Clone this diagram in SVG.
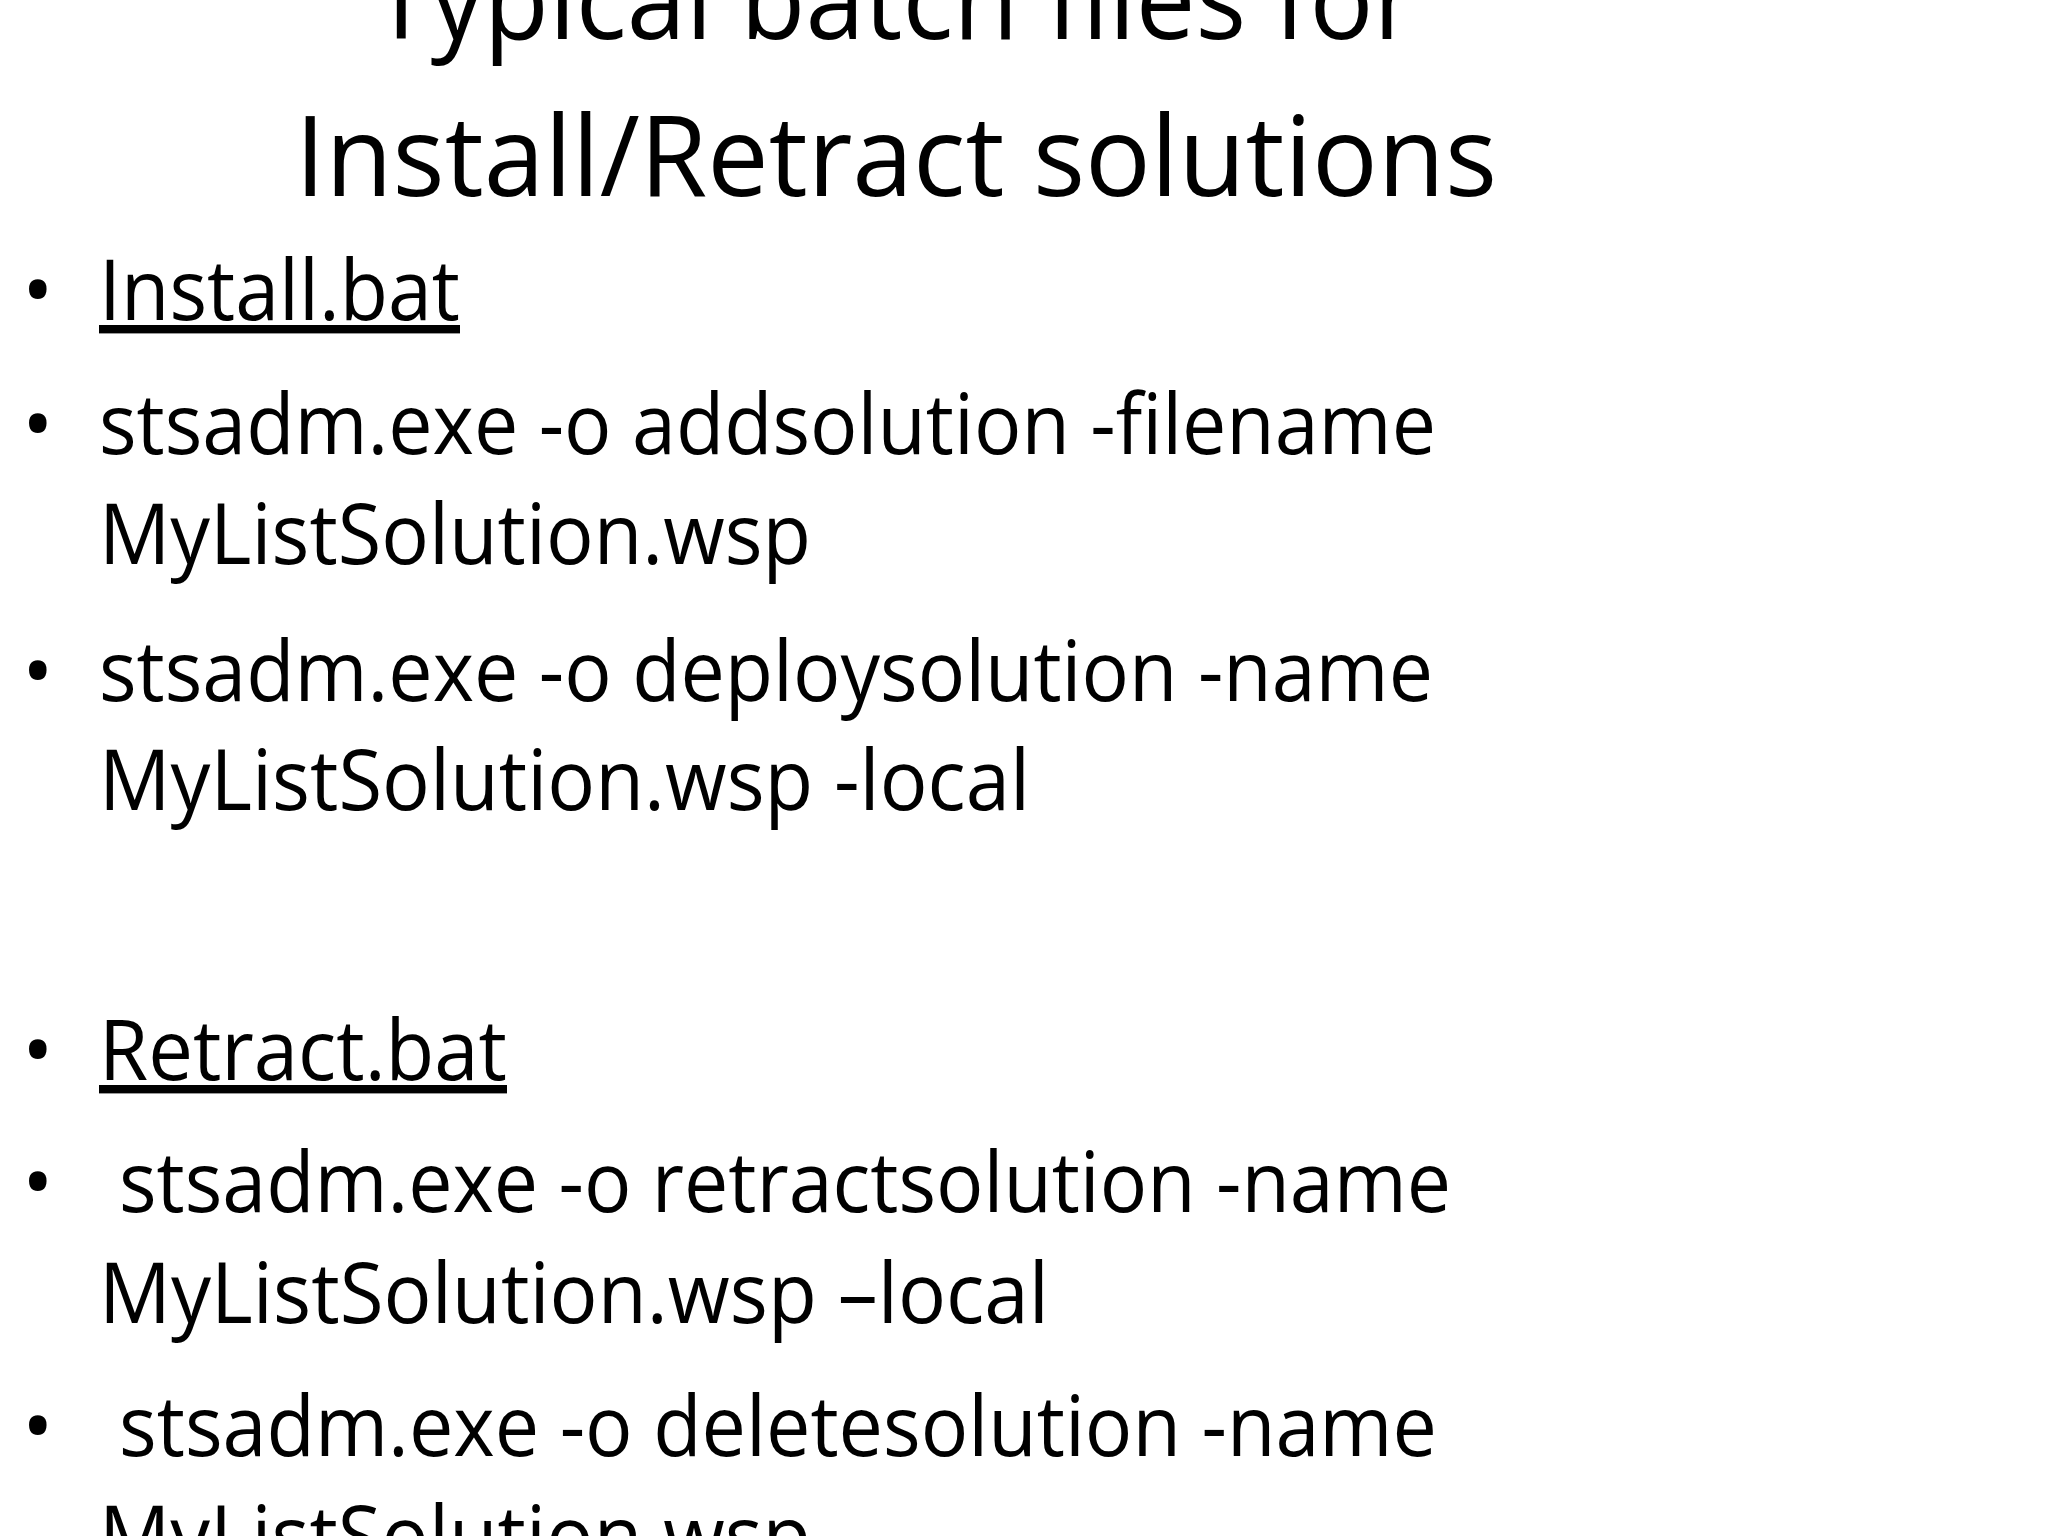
<svg xmlns="http://www.w3.org/2000/svg" width="2048" height="1536" viewBox="0 0 2048 1536">
<style>
text{font-family:"Open Sans","Liberation Sans",sans-serif;fill:#000}
.t{font-size:112px}
.b{font-size:84px}
.u{text-decoration:underline}
</style>
<rect width="2048" height="1536" fill="#fff"/>
<g id="title">
<text class="t" x="372" y="39" textLength="1045" lengthAdjust="spacingAndGlyphs">Typical batch files for</text>
<text class="t" x="295" y="196" textLength="1202" lengthAdjust="spacingAndGlyphs">Install/Retract solutions</text>
</g>
<g id="bullets" class="b">
<text class="b" x="22" y="320">•</text>
<text class="b" x="22" y="454">•</text>
<text class="b" x="22" y="701">•</text>
<text class="b" x="22" y="1080">•</text>
<text class="b" x="22" y="1212">•</text>
<text class="b" x="22" y="1456">•</text>
</g>
<g id="body">
<text class="b u" x="99" y="320" textLength="361" lengthAdjust="spacingAndGlyphs">Install.bat</text>
<text class="b" x="99" y="454" textLength="1337" lengthAdjust="spacingAndGlyphs">stsadm.exe -o addsolution -filename</text>
<text class="b" x="99" y="564" textLength="712" lengthAdjust="spacingAndGlyphs">MyListSolution.wsp</text>
<text class="b" x="99" y="701" textLength="1334" lengthAdjust="spacingAndGlyphs">stsadm.exe -o deploysolution -name</text>
<text class="b" x="99" y="810" textLength="931" lengthAdjust="spacingAndGlyphs">MyListSolution.wsp -local</text>
<text class="b u" x="99" y="1080" textLength="408" lengthAdjust="spacingAndGlyphs">Retract.bat</text>
<text class="b" x="119" y="1212" textLength="1332" lengthAdjust="spacingAndGlyphs">stsadm.exe -o retractsolution -name</text>
<text class="b" x="99" y="1323" textLength="950" lengthAdjust="spacingAndGlyphs">MyListSolution.wsp –local</text>
<text class="b" x="119" y="1456" textLength="1318" lengthAdjust="spacingAndGlyphs">stsadm.exe -o deletesolution -name</text>
<text class="b" x="99" y="1566" textLength="712" lengthAdjust="spacingAndGlyphs">MyListSolution.wsp</text>
</g>
</svg>
